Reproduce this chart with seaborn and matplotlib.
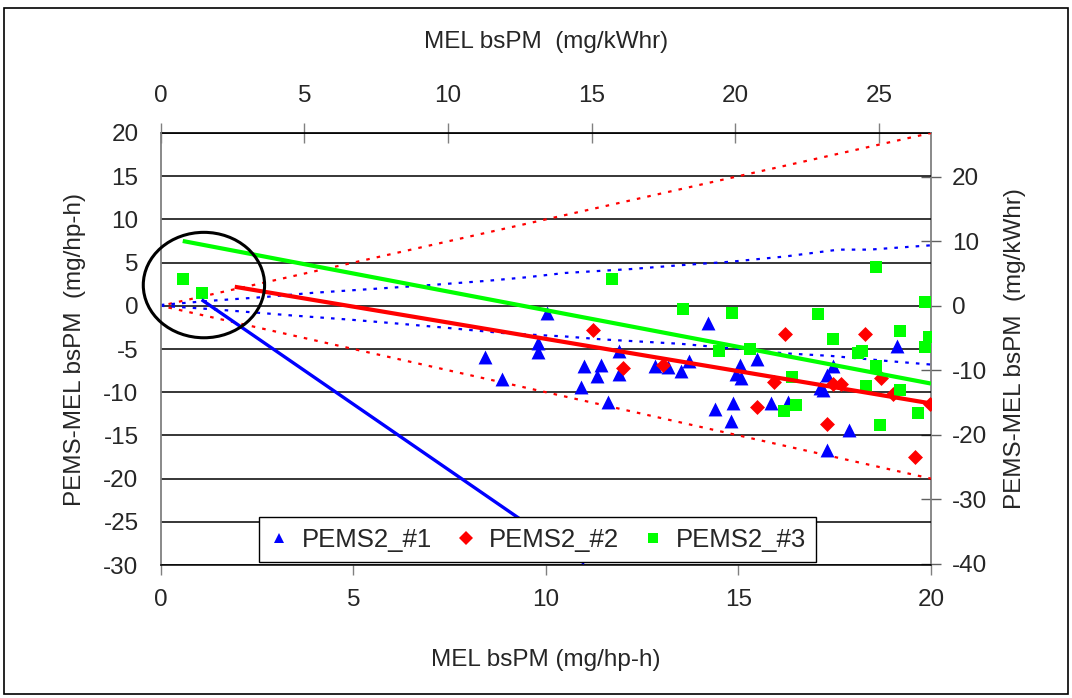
import numpy as np
import pandas as pd
import seaborn as sns
import matplotlib.pyplot as plt
from matplotlib.lines import Line2D
from matplotlib.patches import Ellipse, Rectangle

sns.set_theme(style="white")
plt.rcParams['font.family'] = ['Liberation Sans', 'DejaVu Sans']
plt.rcParams['axes.unicode_minus'] = False

HP_TO_KW = 1.341
FS = 17.5

# PEMS2_#1 (blue triangles)
p1_x = [10.02, 9.80, 9.80, 8.42, 8.87, 11.0, 11.42, 11.32, 10.9, 11.62,
        14.22, 11.9, 11.9, 12.83, 13.18, 13.5, 13.72, 15.04, 14.94, 15.06,
        15.47, 14.39, 14.85, 14.8, 15.84, 19.11, 17.46, 17.29, 17.12, 17.2,
        16.29, 17.87, 17.29]
p1_y = [-0.85, -4.3, -5.3, -5.9, -8.5, -7.0, -6.8, -8.1, -9.4, -11.1,
        -2.0, -5.2, -7.9, -7.0, -7.1, -7.5, -6.4, -6.8, -7.9, -8.4,
        -6.2, -11.9, -11.2, -13.3, -11.2, -4.7, -7.0, -8.0, -9.5, -9.7,
        -11.1, -14.4, -16.7]

# PEMS2_#2 (red diamonds)
p2_x = [11.21, 11.99, 13.03, 15.47, 15.92, 16.21, 17.29, 17.46, 17.65,
        18.29, 18.69, 19.02, 19.58, 19.97]
p2_y = [-2.8, -7.2, -6.8, -11.7, -8.8, -3.3, -13.7, -9.0, -9.1,
        -3.3, -8.4, -10.2, -17.5, -11.4]

# PEMS2_#3 (green squares)
p3_x = [0.57, 1.06, 11.71, 13.57, 14.82, 14.5, 15.3, 18.57, 19.84, 17.06,
        17.46, 19.19, 19.96, 19.84, 18.1, 18.2, 18.57, 16.38, 18.31, 19.19,
        16.49, 16.18, 18.68, 19.65]
p3_y = [3.1, 1.5, 3.1, -0.4, -0.85, -5.2, -5.0, 4.5, 0.4, -1.0,
        -3.9, -2.9, -3.6, -4.8, -5.5, -5.2, -7.0, -8.2, -9.3, -9.8,
        -11.5, -12.2, -13.8, -12.4]

# trend lines (end points)
blue_fit_x, blue_fit_y = [1.06, 11.0], [0.7, -29.8]
red_fit_x, red_fit_y = [1.92, 20.0], [2.2, -11.3]
green_fit_x, green_fit_y = [0.57, 20.0], [7.5, -9.0]

# tolerance bands
red_band_x = [0.2, 20.0]
red_band_hi = [0.2, 20.0]
red_band_lo = [-0.2, -20.0]
blue_hi_x = [0, 1.35, 2.65, 3.95, 5.5, 7.0, 8.5, 9.5, 10.5, 12.2, 13.5, 14.8, 16.2, 17.6, 18.4, 20]
blue_hi_y = [0.1, 0.6, 1.0, 1.5, 1.95, 2.4, 2.9, 3.3, 3.8, 4.25, 4.7, 5.1, 5.7, 6.5, 6.5, 7.0]
blue_lo_x = [0, 1.35, 2.65, 3.35, 4.9, 6.0, 7.3, 9.0, 10.5, 11.5, 13.5, 14.5, 16.2, 17.4, 18.9, 20]
blue_lo_y = [0, -0.4, -0.85, -1.1, -1.6, -2.0, -2.5, -3.2, -3.55, -3.9, -4.4, -4.8, -5.5, -5.8, -6.4, -6.8]

series = ['PEMS2_#1', 'PEMS2_#2', 'PEMS2_#3']
colors = {'PEMS2_#1': '#0000FF', 'PEMS2_#2': '#FF0000', 'PEMS2_#3': '#00FF00'}
markers = {'PEMS2_#1': '^', 'PEMS2_#2': 'D', 'PEMS2_#3': 's'}
sizes = {'PEMS2_#1': 100, 'PEMS2_#2': 58, 'PEMS2_#3': 75}

df = pd.concat([
    pd.DataFrame({'mel': p1_x, 'diff': p1_y, 'series': 'PEMS2_#1'}),
    pd.DataFrame({'mel': p2_x, 'diff': p2_y, 'series': 'PEMS2_#2'}),
    pd.DataFrame({'mel': p3_x, 'diff': p3_y, 'series': 'PEMS2_#3'}),
])

fig = plt.figure(figsize=(10.72, 6.98), dpi=100)
ax = fig.add_axes([0.150, 0.1905, 0.7185, 0.619])

# bands
dot = (0, (1.6, 3.2))
ax.plot(red_band_x, red_band_hi, color='#FF0000', lw=1.6, ls=dot, zorder=2)
ax.plot(red_band_x, red_band_lo, color='#FF0000', lw=1.6, ls=dot, zorder=2)
ax.plot(blue_hi_x, blue_hi_y, color='#0000FF', lw=1.6, ls=dot, zorder=2)
ax.plot(blue_lo_x, blue_lo_y, color='#0000FF', lw=1.6, ls=dot, zorder=2)

for s in series:
    sub = df[df['series'] == s]
    sns.scatterplot(data=sub, x='mel', y='diff', color=colors[s], marker=markers[s],
                    s=sizes[s], linewidth=0, ax=ax, zorder=3, legend=False)

ax.plot(blue_fit_x, blue_fit_y, color='#0000FF', lw=2.4, zorder=4, solid_capstyle='butt')
ax.plot(red_fit_x, red_fit_y, color='#FF0000', lw=3.0, zorder=4, solid_capstyle='butt')
ax.plot(green_fit_x, green_fit_y, color='#00FF00', lw=3.0, zorder=4, solid_capstyle='butt')

ax.add_patch(Ellipse((1.12, 2.4), width=3.15, height=12.2, fill=False, ec='black',
                     lw=2.2, clip_on=False, zorder=5))

ax.set_xlim(0, 20)
ax.set_ylim(-30, 20)
ax.set_xticks(np.arange(0, 21, 5))
ax.set_yticks(np.arange(-30, 21, 5))
ax.yaxis.grid(True, color='black', lw=1.1)
ax.xaxis.grid(False)
ax.tick_params(axis='x', direction='out', length=7, width=1, color='#808080',
               labelsize=FS, pad=10, bottom=True)
ax.tick_params(axis='y', length=0, labelsize=FS, pad=16)
for sp in ['top', 'right']:
    ax.spines[sp].set_visible(False)
ax.spines['left'].set_color('#808080')
ax.spines['left'].set_linewidth(1.3)
ax.spines['bottom'].set_color('black')
ax.spines['bottom'].set_linewidth(1.1)

ax.set_xlabel('MEL bsPM (mg/hp-h)', fontsize=FS)
ax.xaxis.set_label_coords(0.5, -0.195)
ax.set_ylabel('PEMS-MEL bsPM  (mg/hp-h)', fontsize=FS)
ax.yaxis.set_label_coords(-0.097, 0.5)

top = ax.secondary_xaxis('top', functions=(lambda v: v * HP_TO_KW, lambda v: v / HP_TO_KW))
top.set_xticks(np.arange(0, 26, 5))
top.tick_params(direction='inout', length=14, width=1, color='#808080', labelsize=FS, pad=12)
top.spines['top'].set_color('black')
top.set_xlabel('MEL bsPM  (mg/kWhr)', fontsize=FS, labelpad=26)

right = ax.secondary_yaxis('right', functions=(lambda v: v * HP_TO_KW, lambda v: v / HP_TO_KW))
right.set_yticks(np.arange(-40, 21, 10))
right.tick_params(direction='inout', length=14, width=1, color='#606060', labelsize=FS, pad=8)
right.spines['right'].set_color('#808080')
right.spines['right'].set_linewidth(1.3)
right.set_ylabel('PEMS-MEL bsPM  (mg/kWhr)', fontsize=FS, labelpad=12)

handles = [Line2D([], [], ls='none', marker=markers[s], color=colors[s], ms=7.5, mew=0)
           for s in series]
leg = ax.legend(handles, series, loc='lower left', bbox_to_anchor=(0.127, 0.007),
                ncol=3, frameon=True, fancybox=False, fontsize=18.5, framealpha=1,
                handlelength=0.8, handletextpad=0.5, columnspacing=0.9, borderpad=0.4,
                borderaxespad=0)
leg.get_frame().set_edgecolor('black')
leg.get_frame().set_linewidth(1.0)
leg.set_zorder(6)

fig.patches.append(Rectangle((0.004, 0.006), 0.992, 0.983, transform=fig.transFigure,
                             fill=False, ec='black', lw=1.2))

fig.savefig('out.png', dpi=100)
